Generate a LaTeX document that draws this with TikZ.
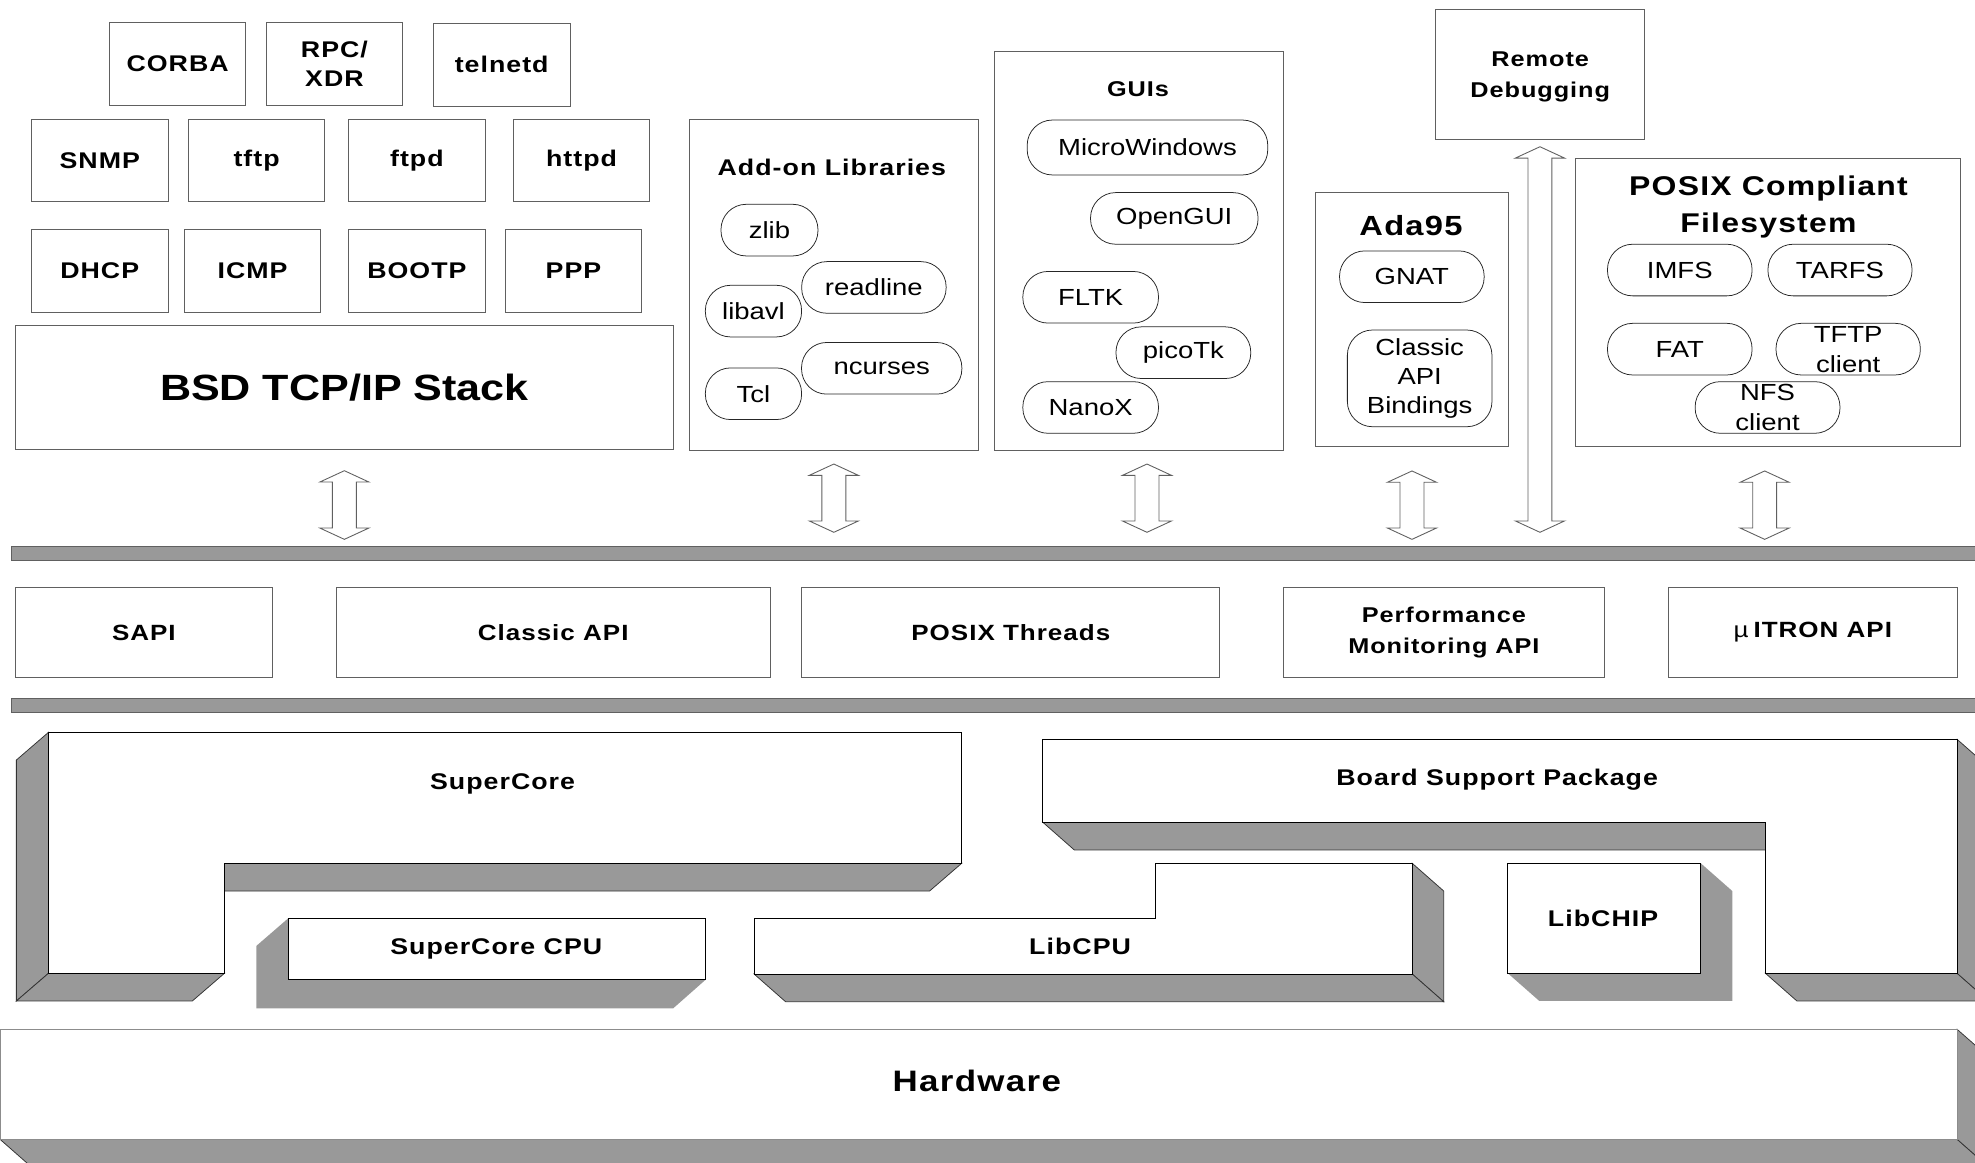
\documentclass[tikz,border=0pt]{standalone}
\usepackage{fontspec}
\setmainfont{Liberation Sans}[FakeStretch=1.18]
\newfontfamily\tagfont{Liberation Sans}[FakeStretch=1.18,LetterSpace=4.5]
\definecolor{slab}{RGB}{153,153,153}
\definecolor{rim}{RGB}{96,96,96}
\tikzset{
  box/.style={draw=rim, fill=white, line width=0.8pt, inner sep=0pt, align=center},
  tag/.style={font=\tagfont\bfseries\fontsize{18}{23}\selectfont, align=center},
  netbox/.style={box, tag, minimum width=108.5pt, minimum height=65.5pt},
  apibox/.style={box, tag, minimum height=71.2pt, font=\tagfont\bfseries\fontsize{17.5}{24}\selectfont},
  pill/.style={draw=black!85, fill=white, line width=0.6pt, rounded corners=20pt, inner sep=0pt, minimum height=41pt, align=center, font=\fontsize{18.5}{23.5}\selectfont},
  pilltext/.style={inner sep=0pt, align=center, font=\fontsize{18.5}{23.8}\selectfont},
  bus/.style={fill=slab, draw=rim, line width=0.8pt},
  face/.style={fill=white, draw=black, line width=0.8pt},
  side/.style={fill=slab, draw=black!80, line width=0.6pt},
  updown/.style={draw=rim, fill=white, line width=0.7pt}
}
\newcommand\busarrow[3]{%
  \draw[updown] (#1,#2) -- (#1+19.5,#2+9) -- (#1+9.5,#2+9) -- (#1+9.5,#3-9) -- (#1+19.5,#3-9) -- (#1,#3)
    -- (#1-19.5,#3-9) -- (#1-9.5,#3-9) -- (#1-9.5,#2+9) -- (#1-19.5,#2+9) -- cycle;}
\begin{document}
\begin{tikzpicture}[x=1pt, y=-1pt, line join=miter]
\useasboundingbox (0,0) rectangle (1568,923);
\clip (0,0) rectangle (1568,923);

% network stack
\node[netbox] (corba) at (141,50.8) {CORBA};
\node[netbox] (rpc) at (265.5,50.8) {RPC/\\XDR};
\node[netbox] (telnetd) at (398.3,51.5) {telnetd};
\node[netbox] (snmp) at (79.2,127.5) {SNMP};
\node[netbox] (tftp) at (203.7,127.5) {tftp};
\node[netbox] (ftpd) at (331,127.5) {ftpd};
\node[netbox] (httpd) at (461.7,127.5) {httpd};
\node[netbox] (dhcp) at (79.2,215) {DHCP};
\node[netbox] (icmp) at (200.5,215) {ICMP};
\node[netbox] (bootp) at (331,215) {BOOTP};
\node[netbox] (ppp) at (455.3,215) {PPP};
\node[box, minimum width=522pt, minimum height=98.4pt, font=\bfseries\fontsize{29}{34}\selectfont] (bsd) at (273.5,308) {BSD TCP/IP Stack};

% libraries
\node[box, minimum width=229.7pt, minimum height=262.5pt] (addon) at (661.9,226.5) {};
\node[tag] (addontitle) at (660.4,133) {Add-on Libraries};
\node[pill, minimum width=77pt] (zlib) at (610.9,182.7) {zlib};
\node[pill, minimum width=114.7pt] (readline) at (693.8,228.2) {readline};
\node[pill, minimum width=76.4pt] (libavl) at (598.2,247) {libavl};
\node[pill, minimum width=127.3pt] (ncurses) at (700,292.4) {ncurses};
\node[pill, minimum width=76.4pt] (tcl) at (598.2,312.6) {Tcl};

% guis
\node[box, minimum width=229.4pt, minimum height=317pt] (guis) at (904.1,199.3) {};
\node[tag, font=\tagfont\bfseries\fontsize{17}{21}\selectfont] (guititle) at (903.5,70.9) {GUIs};
\node[pill, minimum width=191pt, minimum height=43.6pt] (microwin) at (911,117.1) {MicroWindows};
\node[pill, minimum width=133pt] (opengui) at (932.3,173.4) {OpenGUI};
\node[pill, minimum width=107.7pt] (fltk) at (865.9,236) {FLTK};
\node[pill, minimum width=107pt] (picotk) at (939.5,280) {picoTk};
\node[pill, minimum width=107.7pt] (nanox) at (865.9,323.5) {NanoX};

% remote debugging
\node[box, tag, minimum width=165.5pt, minimum height=103.6pt, font=\tagfont\bfseries\fontsize{17}{24}\selectfont] (remote) at (1222.8,59.2) {};
\node[tag, font=\tagfont\bfseries\fontsize{17}{24}\selectfont] (remotetext) at (1222.8,61) {Remote\\Debugging};

% ada
\node[box, minimum width=153pt, minimum height=202pt] (ada) at (1121,253.7) {};
\node[tag, font=\tagfont\bfseries\fontsize{22}{26}\selectfont] (adatitle) at (1120.2,179.4) {Ada95};
\node[pill, minimum width=114.8pt] (gnat) at (1120.9,219.7) {GNAT};
\node[pill, minimum width=114.8pt, minimum height=76.8pt] (bindings) at (1127.1,300.4) {};
\node[pilltext, font=\fontsize{18.5}{23.3}\selectfont] (bindingstext) at (bindings) {Classic\\API\\Bindings};

% filesystem
\node[box, minimum width=305.3pt, minimum height=229pt] (fs) at (1403.5,240.2) {};
\node[tag, font=\tagfont\bfseries\fontsize{21.5}{29}\selectfont] (fstitle) at (1404,164.5) {POSIX Compliant\\Filesystem};
\node[pill, minimum width=114.8pt] (imfs) at (1333.6,214.4) {IMFS};
\node[pill, minimum width=114.4pt] (tarfs) at (1460.8,214.4) {TARFS};
\node[pill, minimum width=114.8pt] (fat) at (1333.6,277.2) {FAT};
\node[pill, minimum width=114.6pt] (tftpc) at (1467.3,277.2) {};
\node[pilltext] (tftpctext) at (tftpc) {TFTP\\client};
\node[pill, minimum width=115pt] (nfsc) at (1403.3,323.5) {};
\node[pilltext] (nfsctext) at (nfsc) {NFS\\client};

% arrows to the bus
\busarrow{273.4}{373.7}{428.2}
\busarrow{662}{368.4}{422.6}
\busarrow{910.6}{368.4}{422.6}
\busarrow{1121}{373.9}{428.2}
\busarrow{1222.6}{116.5}{422.6}
\busarrow{1401}{373.9}{428.2}

% api layer
\draw[bus] (9,434) rectangle (1580,445);
\node[apibox, minimum width=204pt] (sapi) at (114.2,502.1) {SAPI};
\node[apibox, minimum width=344.8pt] (classicapi) at (439.2,502.1) {Classic API};
\node[apibox, minimum width=331.7pt] (pthreads) at (802.5,502.1) {POSIX Threads};
\node[apibox, minimum width=255.4pt, font=\tagfont\bfseries\fontsize{17}{24}\selectfont] (perfmon) at (1146.3,502.1) {Performance\\Monitoring API};
\node[apibox, minimum width=229.9pt] (uitron) at (1439.2,502.1) {{\mdseries µ}\hspace{4pt}ITRON API};
\draw[bus] (9,554.4) rectangle (1580,565.8);

% supercore
\draw[side] (38.5,581.4) -- (13,603.4) -- (13,794.7) -- (38.5,772.7) -- cycle;
\draw[side] (38.5,772.7) -- (178.2,772.7) -- (152.7,794.7) -- (13,794.7) -- cycle;
\draw[side] (178.2,685.4) -- (763.5,685.4) -- (738,707.4) -- (178.2,707.4) -- cycle;
\draw[face] (38.5,581.4) -- (763.5,581.4) -- (763.5,685.4) -- (178.2,685.4) -- (178.2,772.7) -- (38.5,772.7) -- cycle;
\node[tag] (supercore) at (399,622) {SuperCore};

\fill[slab] (228.9,729) -- (203.5,751) -- (203.5,800.5) -- (534.5,800.5) -- (560,778) -- cycle;
\draw[face] (228.9,729) rectangle (560,778);
\node[tag] (scpu) at (394,753.7) {SuperCore CPU};

% libcpu
\draw[side] (1121.2,685.4) -- (1146.2,707.4) -- (1146.2,795.3) -- (1121.2,773.3) -- cycle;
\draw[side] (598.7,773.3) -- (1121.2,773.3) -- (1146.2,795.3) -- (623.7,795.3) -- cycle;
\draw[face] (598.7,729.3) -- (917.1,729.3) -- (917.1,685.4) -- (1121.2,685.4) -- (1121.2,773.3) -- (598.7,773.3) -- cycle;
\node[tag] (libcpu) at (857.5,751) {LibCPU};

% bsp
\draw[side] (827.9,652.8) -- (1401.6,652.8) -- (1401.6,674.8) -- (852.9,674.8) -- cycle;
\draw[side] (1401.6,772.7) -- (1553.8,772.7) -- (1578.8,794.7) -- (1426.6,794.7) -- cycle;
\draw[side] (1553.8,587) -- (1578.8,609) -- (1578.8,794.7) -- (1553.8,772.7) -- cycle;
\draw[face] (827.9,587) -- (1553.8,587) -- (1553.8,772.7) -- (1401.6,772.7) -- (1401.6,652.8) -- (827.9,652.8) -- cycle;
\node[tag] (bsp) at (1188.6,619.3) {Board Support Package};

\fill[slab] (1350.3,685.4) -- (1375.3,707.4) -- (1375.3,794.7) -- (1222.1,794.7) -- (1197.1,772.7) -- cycle;
\draw[face] (1197.1,685.4) rectangle (1350.3,772.7);
\node[tag] (libchip) at (1272.7,729) {LibCHIP};

% hardware
\draw[side] (0,904.5) -- (1553.8,904.5) -- (1578.8,926.5) -- (25,926.5) -- cycle;
\draw[side] (1553.8,817.2) -- (1578.8,839.2) -- (1578.8,926.5) -- (1553.8,904.5) -- cycle;
\draw[face, draw=black!45] (0,817.2) rectangle (1553.8,904.5);
\node[tag, font=\tagfont\bfseries\fontsize{23.5}{28}\selectfont] (hardware) at (775.5,858) {Hardware};
\end{tikzpicture}
\end{document}
